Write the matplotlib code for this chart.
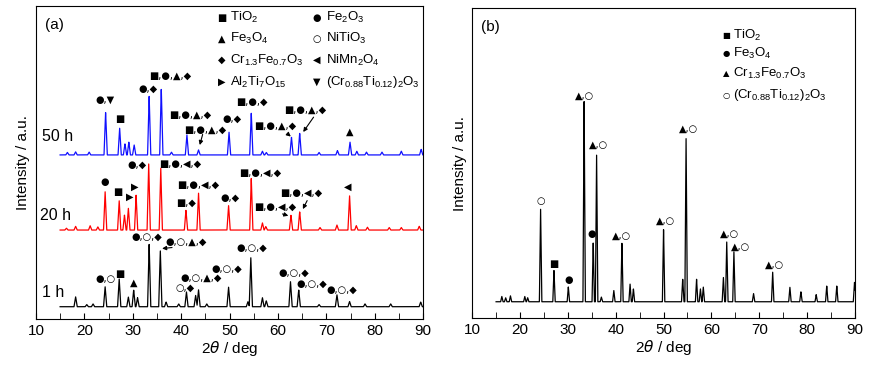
import numpy as np
import matplotlib.pyplot as plt

plt.rcParams['font.family'] = ['Liberation Sans', 'DejaVu Sans']
plt.rcParams['mathtext.default'] = 'regular'

# ---- panel (a): peak positions (2theta) and peak tops, per milling time ----
base_50h = 52.4
pk_50h_x = [16.5, 18.2, 21.0, 24.4, 27.3, 28.4, 29.2, 30.3, 33.4, 35.9, 38.0, 41.2, 43.6, 49.9,
            54.5, 56.8, 57.6, 62.8, 64.5, 68.5, 72.3, 74.9, 76.3, 78.3, 81.5, 85.5, 89.6]
pk_50h_y = [53.2, 53.4, 53.3, 66.1, 61.0, 56.0, 56.5, 55.6, 71.2, 73.8, 53.3, 58.8, 54.0, 59.7,
            65.8, 53.6, 53.2, 58.1, 59.4, 53.2, 53.8, 56.5, 53.6, 53.3, 53.3, 53.6, 54.2]

base_20h = 28.4
pk_20h_x = [16.3, 18.2, 21.2, 22.8, 24.3, 27.2, 28.3, 29.1, 30.7, 33.3, 35.8, 41.0, 43.6, 49.8,
            54.5, 56.8, 57.5, 62.7, 64.5, 68.7, 72.2, 74.8, 76.2, 78.5, 83.0, 85.5, 89.2]
pk_20h_y = [29.0, 29.6, 29.8, 29.4, 40.7, 38.0, 33.2, 35.4, 39.6, 49.8, 48.2, 34.8, 40.2, 36.4,
            45.0, 30.7, 29.5, 33.2, 34.3, 29.2, 30.0, 39.6, 29.8, 29.3, 29.2, 29.2, 29.6]

base_1h = 3.9
pk_1h_x = [18.2, 20.5, 21.8, 24.3, 27.2, 29.1, 30.2, 31.0, 33.4, 35.7, 36.9, 39.5, 41.1, 43.0,
           43.6, 45.3, 49.8, 53.8, 54.4, 56.8, 57.6, 62.6, 64.3, 68.5, 72.2, 74.8, 78.0,
           83.3, 89.5]
pk_1h_y = [7.1, 4.6, 4.8, 10.3, 13.0, 7.0, 9.3, 6.8, 23.9, 22.0, 5.4, 4.8, 8.7, 7.5,
           9.3, 4.8, 10.3, 5.5, 19.7, 6.8, 5.8, 11.9, 9.3, 4.6, 7.7, 5.6, 4.8,
           4.8, 5.4]

# ---- panel (b) ----
base_b = 5.3
pk_b_x = [16.2, 17.0, 18.0, 21.0, 21.6, 24.3, 27.1, 30.1, 33.4, 35.3, 36.0, 37.0, 39.6,
          41.3, 43.0, 43.7, 50.0, 54.0, 54.7, 56.9, 57.7, 58.3, 62.5, 63.2, 64.7,
          68.8, 72.8, 76.4, 78.7, 81.9, 84.1, 86.2, 89.9]
pk_b_y = [7.0, 6.6, 7.2, 7.0, 6.6, 35.4, 15.5, 10.1, 70.3, 24.8, 53.6, 6.8, 9.0,
          24.6, 11.0, 9.5, 28.9, 12.8, 58.7, 12.6, 9.5, 10.1, 13.3, 24.6, 21.4,
          8.0, 14.9, 10.0, 8.6, 7.6, 10.5, 10.5, 11.7]

tt = np.linspace(15, 90, 4000)


def pattern(base, px, py, w=0.33):
    y = np.full_like(tt, base)
    for x0, h in zip(px, py):
        tri = np.clip(1 - np.abs(tt - x0) / w, 0, None) * (h - base)
        y = np.maximum(y, base + tri)
    return y


fig = plt.figure(figsize=(8.76, 3.73), dpi=100)
ax0 = fig.add_axes([0.041, 0.145, 0.442, 0.839])
ax1 = fig.add_axes([0.539, 0.147, 0.437, 0.831])

ax0.plot(tt, pattern(base_50h, pk_50h_x, pk_50h_y), color='#1010ff', lw=0.9)
ax0.plot(tt, pattern(base_20h, pk_20h_x, pk_20h_y), color='#ff0000', lw=0.9)
ax0.plot(tt, pattern(base_1h, pk_1h_x, pk_1h_y), color='black', lw=0.9)
ax1.plot(tt, pattern(base_b, pk_b_x, pk_b_y, w=0.25), color='black', lw=0.9)

for ax in (ax0, ax1):
    ax.set_xlim(10, 90)
    ax.set_ylim(0, 100)
    ax.set_yticks([])
    ax.set_xticks(range(10, 91, 10))
    ax.set_xticks(range(15, 90, 10), minor=True)
    ax.tick_params(axis='x', which='both', direction='in', length=4, labelsize=11)
    ax.set_xlabel(r'2$\mathit{\theta}$ / deg', fontsize=11, labelpad=1)
    ax.set_ylabel('Intensity / a.u.', fontsize=11, labelpad=4)

sym_font = ['DejaVu Sans']
fs = 7
# sample labels
ax0.text(11.2, 57.0, '50 h', fontsize=11.5)
ax0.text(10.8, 31.5, '20 h', fontsize=11.5)
ax0.text(11.2, 7.0, '1 h', fontsize=11.5)
ax0.text(11.8, 92.5, '(a)', fontsize=11)
ax1.text(11.8, 92.5, '(b)', fontsize=11)

# legend (a)
leg_a = [('■', 'TiO$_2$', 48.4, 96.2), ('●', 'Fe$_2$O$_3$', 68.1, 96.2),
         ('▲', 'Fe$_3$O$_4$', 48.4, 89.5), ('○', 'NiTiO$_3$', 68.1, 89.5),
         ('◆', 'Cr$_{1.3}$Fe$_{0.7}$O$_3$', 48.4, 82.7), ('◀', 'NiMn$_2$O$_4$', 68.1, 82.7),
         ('▶', 'Al$_2$Ti$_7$O$_{15}$', 48.4, 75.7), ('▼', '(Cr$_{0.88}$Ti$_{0.12}$)$_2$O$_3$', 68.1, 75.7)]
for sym, lab, x, y in leg_a:
    ax0.text(x, y, sym, fontsize=fs, ha='center', va='center', family=sym_font)
    ax0.text(x + 1.8, y, lab, fontsize=9.5, ha='left', va='center')

# legend (b)
leg_b = [('■', 'TiO$_2$', 91.3), ('●', 'Fe$_3$O$_4$', 85.4),
         ('▲', 'Cr$_{1.3}$Fe$_{0.7}$O$_3$', 78.9), ('○', '(Cr$_{0.88}$Ti$_{0.12}$)$_2$O$_3$', 71.9)]
for sym, lab, y in leg_b:
    ax1.text(63.0, y, sym, fontsize=6, ha='center', va='center', family=sym_font)
    ax1.text(64.5, y, lab, fontsize=9.5, ha='left', va='center')

# peak markers (a)
ann_a = [('●,▼', 24.3, 70.0), ('■', 27.4, 63.8), ('●,◆', 33.2, 73.7), ('■,●,▲,◆', 37.7, 77.6),
         ('■,●,▲,◆', 41.8, 65.2), ('■,●,▲,◆', 44.9, 60.6), ('●,◆', 50.5, 64.1),
         ('■,●,◆', 54.6, 69.4), ('■,●,▲,◆', 59.4, 61.7), ('■,●,▲,◆', 65.6, 66.8), ('▲', 74.9, 59.8),
         ('●,◆', 30.8, 49.4), ('■,●,◀,◆', 39.8, 49.7), ('■,●,◀,◆', 56.3, 46.7),
         ('●', 24.3, 43.9), ('■', 27.0, 40.7), ('▶', 30.5, 42.1), ('▶', 29.3, 38.9),
         ('■,●,◀,◆', 43.6, 42.8), ('■,◆', 41.1, 37.0), ('●,◆', 50.1, 38.6),
         ('■,●,◀,◆', 64.9, 40.2), ('■,●,◀,◆', 59.4, 35.7), ('◀', 74.5, 42.1),
         ('●,○,◆', 32.9, 26.3), ('●,○,▲,◆', 41.1, 24.7), ('●,○,◆', 54.6, 22.6),
         ('●,○', 24.3, 12.7), ('■', 27.4, 14.3), ('▲', 30.3, 11.6), ('●,○,◆', 49.4, 15.9),
         ('●,○,▲,◆', 44.2, 13.0), ('○,◆', 40.8, 10.1), ('●,○,◆', 63.2, 14.8),
         ('●,○,◆', 67.0, 11.1), ('●,○,◆', 73.2, 9.3)]
for s, x, y in ann_a:
    ax0.text(x, y, s, fontsize=fs, ha='center', va='center', family=sym_font)

arrows_a = [((44.6, 59.8), (43.7, 54.7)), ((61.5, 59.8), (63.1, 57.7)), ((67.7, 65.2), (64.9, 59.0)),
            ((60.4, 33.8), (62.7, 32.7)), ((66.3, 38.6), (64.9, 34.3)), ((38.7, 22.9), (35.5, 22.4))]
for (x1, y1), (x2, y2) in arrows_a:
    ax0.annotate('', xy=(x2, y2), xytext=(x1, y1),
                 arrowprops=dict(arrowstyle='-|>', color='black', lw=0.8, mutation_scale=6))

# peak markers (b)
ann_b = [('▲,○', 33.4, 71.9), ('▲,○', 36.4, 55.8), ('▲,○', 55.2, 61.2), ('○', 24.3, 37.8),
         ('■', 27.0, 17.6), ('●', 30.2, 12.3), ('●', 34.9, 27.1), ('▲,○', 41.3, 26.5),
         ('▲,○', 50.5, 31.4), ('▲,○', 63.7, 27.3), ('▲,○', 66.0, 23.0), ('▲,○', 73.1, 17.3)]
for s, x, y in ann_b:
    ax1.text(x, y, s, fontsize=fs, ha='center', va='center', family=sym_font)

fig.savefig('out.png', dpi=100)
